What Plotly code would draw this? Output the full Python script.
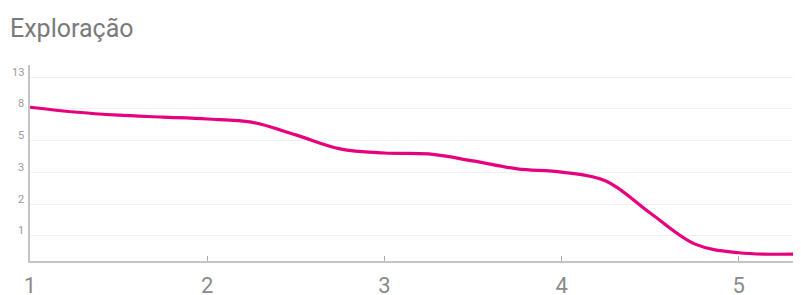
import plotly.graph_objects as go

# ---- data ----
title_text = "Exploração"
x_vals = [1, 1.25, 1.5, 1.75, 2, 2.25, 2.5, 2.75, 3, 3.25, 3.5, 3.75, 4, 4.25, 4.5, 4.75, 5, 5.35]
# values expressed on the ordinal (Fibonacci) axis scale: 1->"1", 2->"2", 3->"3", 4->"5", 5->"8", 6->"13"
y_vals = [5.05, 4.90, 4.80, 4.74, 4.68, 4.58, 4.18, 3.74, 3.61, 3.58, 3.36, 3.11, 3.01, 2.73, 1.72, 0.75, 0.47, 0.43]
x_tick_vals = [1, 2, 3, 4, 5]
x_tick_text = ["1", "2", "3", "4", "5"]
y_tick_vals = [1, 2, 3, 4, 5, 6]
y_tick_text = ["1", "2", "3", "5", "8", "13"]

FONT = "Roboto, 'Noto Sans', sans-serif"
MAGENTA = "#e6007e"
OFF = 8  # default page body margin offset

fig = go.Figure()
fig.add_trace(go.Scatter(
    x=x_vals, y=y_vals, mode="lines",
    line=dict(color=MAGENTA, width=3.2, shape="spline", smoothing=1.0),
    hoverinfo="skip", showlegend=False,
))

annotations = []
for v, t in zip(y_tick_vals, y_tick_text):
    annotations.append(dict(
        x=0, xref="paper", y=v, yref="y", text=t, showarrow=False,
        xanchor="right", yanchor="middle", xshift=-4, yshift=5,
        font=dict(family=FONT, size=11, color="#9a9a9a"),
    ))

fig.update_layout(
    width=801, height=295,
    margin=dict(l=30 - OFF, r=OFF, t=65 - OFF, b=34 + OFF, autoexpand=False),
    paper_bgcolor="white", plot_bgcolor="white",
    title=dict(text=title_text, x=(10 - OFF) / 801, xanchor="left", xref="container",
               y=1 - (28 - OFF) / 295, yanchor="middle", yref="container",
               font=dict(family=FONT, size=25, color="#7a7a7a")),
    annotations=annotations,
    xaxis=dict(
        range=[1, 5.351], tickvals=x_tick_vals, ticktext=x_tick_text,
        showgrid=False, zeroline=False,
        showline=True, linecolor="#c4c4c4", linewidth=2,
        ticks="inside", ticklen=5, tickcolor="#aaaaaa", tickwidth=1,
        tickfont=dict(family=FONT, size=22, color="#8a8a8a"),
        ticklabelstandoff=4, automargin=False, fixedrange=True,
    ),
    yaxis=dict(
        range=[0.21, 6.38], tickvals=y_tick_vals, ticktext=y_tick_text,
        showticklabels=False, showgrid=True, gridcolor="#f0f0f0", gridwidth=1,
        zeroline=False, showline=True, linecolor="#c4c4c4", linewidth=2,
        ticks="", automargin=False, fixedrange=True,
    ),
)

fig.write_html("out.html")
